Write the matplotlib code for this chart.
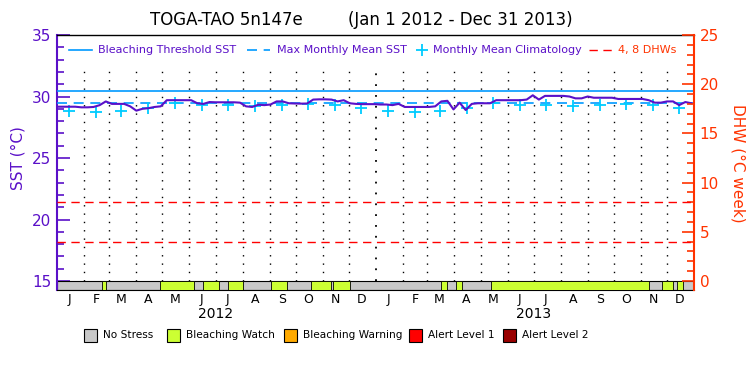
import pandas as pd
import matplotlib
matplotlib.use("Agg")
import matplotlib.pyplot as plt
import matplotlib.dates as mdates
from matplotlib.lines import Line2D
from matplotlib.patches import Rectangle
from matplotlib.ticker import MultipleLocator, FuncFormatter

# weekly SST (deg C) starting 2012-01-01
sst_start = "2012-01-01"
sst_weekly = [29.17, 29.17, 29.17, 29.17, 29.12, 29.12, 29.15, 29.3,
              29.6, 29.4, 29.4, 29.4, 29.2, 28.85, 29.0, 29.05,
              29.15, 29.2, 29.7, 29.7, 29.7, 29.7, 29.7, 29.45,
              29.4, 29.55, 29.53, 29.53, 29.53, 29.53, 29.5, 29.2,
              29.15, 29.33, 29.3, 29.35, 29.6, 29.6, 29.45, 29.43,
              29.42, 29.43, 29.75, 29.77, 29.77, 29.75, 29.6, 29.7,
              29.45, 29.4, 29.38, 29.38, 29.38, 29.35, 29.35, 29.3,
              29.4, 29.15, 29.15, 29.15, 29.15, 29.15, 29.2, 29.6,
              29.65, 28.95, 29.5, 28.9, 29.4, 29.45, 29.45, 29.45,
              29.7, 29.7, 29.7, 29.7, 29.7, 29.75, 30.1, 29.75,
              30.05, 30.05, 30.05, 30.05, 30.0, 29.85, 29.85, 30.0,
              29.9, 29.9, 29.9, 29.9, 29.8, 29.8, 29.8, 29.8,
              29.8, 29.7, 29.5, 29.5, 29.6, 29.6, 29.3, 29.55,
              29.45]

# monthly mean climatology Jan..Dec
clim_months = [28.85, 28.7, 28.85, 29.1, 29.45, 29.35,
               29.27, 29.2, 29.33, 29.37, 29.33, 29.1]
mmm = 29.46
threshold = 30.46
dhw_levels = [4, 8]

# bleaching watch periods (rest is no stress)
watch_starts = ["2012-02-22", "2012-04-28", "2012-06-17", "2012-07-15",
                "2012-09-03", "2012-10-18", "2012-11-13", "2013-03-17",
                "2013-04-03", "2013-05-13", "2013-11-25", "2013-12-12"]
watch_ends = ["2012-02-26", "2012-06-06", "2012-07-05", "2012-08-01",
              "2012-09-21", "2012-11-11", "2012-12-02", "2013-03-24",
              "2013-04-10", "2013-11-10", "2013-12-08", "2013-12-19"]

month_letters = ["J", "F", "M", "A", "M", "J", "J", "A", "S", "O", "N", "D"]
years = [2012, 2013]
stress_labels = ["No Stress", "Bleaching Watch", "Bleaching Warning",
                 "Alert Level 1", "Alert Level 2"]
stress_colors = ["#c8c8c8", "#ccff33", "#ffaa00", "#ff0000", "#990000"]

purple = "#5a10c8"
orange = "#ff3300"
thr_c = "#0099ff"
clim_c = "#00ccff"

fig = plt.figure(figsize=(7.5, 3.75), dpi=100)
ax = fig.add_axes([57/750, 85/375, 637/750, 255/375])
ax2 = ax.twinx()

x0 = pd.Timestamp("2012-01-01")
x1 = pd.Timestamp("2014-01-01")
ax.set_xlim(x0, x1)
ax.set_ylim(14.27, 35)
ax2.set_ylim(-0.915, 25)

# stress bar along the bottom
bar_lo, bar_h = 14.27, 15 - 14.27
ax.add_patch(Rectangle((mdates.date2num(x0), bar_lo),
                       mdates.date2num(x1) - mdates.date2num(x0), bar_h,
                       facecolor=stress_colors[0], edgecolor="black", lw=0.8, zorder=2))
for s, e in zip(watch_starts, watch_ends):
    a = mdates.date2num(pd.Timestamp(s))
    b = mdates.date2num(pd.Timestamp(e))
    ax.add_patch(Rectangle((a, bar_lo), b - a, bar_h, facecolor=stress_colors[1],
                           edgecolor="black", lw=0.6, zorder=3))

# month boundaries
month_starts = pd.date_range("2012-02-01", "2013-12-01", freq="MS")
for d in month_starts:
    lw = 1.3 if d.month == 1 else 1.0
    ax.vlines(d, 15, 32.55, colors="black", linestyles=(0, (1, 5)), lw=lw, zorder=1)

ax.axhline(threshold, color=thr_c, lw=1.2, zorder=4)
ax.axhline(mmm, color=thr_c, lw=1.2, ls=(0, (6, 4)), zorder=4)

mid_months = pd.date_range("2012-01-01", "2013-12-01", freq="MS") + pd.Timedelta(days=14)
ax.plot(mid_months, clim_months * 2, ls="none", marker="+", ms=9, mew=1.3,
        color=clim_c, zorder=5)

sst_dates = pd.date_range(sst_start, periods=len(sst_weekly), freq="7D")
ax.plot(sst_dates, sst_weekly, color=purple, lw=1.5, zorder=6)

for lev in dhw_levels:
    ax2.axhline(lev, color="#ff0000", lw=1.0, ls=(0, (6, 4)))

# axes styling
ax.yaxis.set_minor_locator(MultipleLocator(1))
ax.set_yticks([15, 20, 25, 30, 35])
ax.tick_params(axis="y", which="major", direction="in", length=9, width=1.2,
               color=purple, labelcolor=purple, labelsize=11, pad=4)
ax.tick_params(axis="y", which="minor", direction="in", length=5, width=1.2, color=purple)
ax2.yaxis.set_minor_locator(MultipleLocator(1))
ax2.set_yticks([0, 5, 10, 15, 20, 25])
ax2.tick_params(axis="y", which="major", direction="in", length=9, width=1.2,
                color=orange, labelcolor=orange, labelsize=11, pad=4)
ax2.tick_params(axis="y", which="minor", direction="in", length=5, width=1.2, color=orange)

ax.xaxis.set_major_locator(mdates.MonthLocator(bymonthday=15))
ax.xaxis.set_major_formatter(FuncFormatter(
    lambda v, pos: month_letters[mdates.num2date(v).month - 1]))
ax.xaxis.set_minor_locator(mdates.MonthLocator())
ax.tick_params(axis="x", which="both", length=0, labelsize=9, pad=2)

ax.spines["left"].set_color(purple)
ax.spines["left"].set_linewidth(1.5)
ax2.spines["left"].set_visible(False)
ax2.spines["right"].set_color(orange)
ax2.spines["right"].set_linewidth(1.5)
ax.spines["right"].set_visible(False)
ax.spines["top"].set_linewidth(1.0)
ax2.spines["top"].set_visible(False)
ax2.spines["bottom"].set_visible(False)

for yr in years:
    ax.text(pd.Timestamp(f"{yr}-07-01"), -0.095, str(yr), transform=ax.get_xaxis_transform(),
            ha="center", va="center", fontsize=10)

# titles / axis labels
fig.text(150/750, 1 - 20/375, "TOGA-TAO 5n147e", fontsize=12, va="center")
fig.text(348/750, 1 - 20/375, "(Jan 1 2012 - Dec 31 2013)", fontsize=12, va="center")
fig.text(18/750, 1 - 158/375, "SST (°C)", rotation=90, ha="center", va="center",
         fontsize=11, color=purple)
fig.text(738/750, 1 - 163/375, "DHW (°C week)", rotation=-90, ha="center", va="center",
         fontsize=11, color=orange)

# top legend
ly = 1 - 50/375
fig.add_artist(Line2D([69/750, 92/750], [ly, ly], color=thr_c, lw=1.2))
fig.text(98/750, ly, "Bleaching Threshold SST", fontsize=8, color=purple, va="center")
fig.add_artist(Line2D([247/750, 270/750], [ly, ly], color=thr_c, lw=1.2, ls=(0, (6, 4))))
fig.text(277/750, ly, "Max Monthly Mean SST", fontsize=8, color=purple, va="center")
fig.add_artist(Line2D([422/750], [ly], color=clim_c, marker="+", ms=9, mew=1.3, ls="none"))
fig.text(433/750, ly, "Monthly Mean Climatology", fontsize=8, color=purple, va="center")
fig.add_artist(Line2D([589/750, 613/750], [ly, ly], color="#ff0000", lw=1.0, ls=(0, (6, 4))))
fig.text(618/750, ly, "4, 8 DHWs", fontsize=8, color=orange, va="center")

# bottom legend
box_x = [84, 167, 284, 409, 503]
by = 1 - 335/375
for bx, lab, col in zip(box_x, stress_labels, stress_colors):
    fig.add_artist(Rectangle((bx/750, by - 6.5/375), 13/750, 13/375, facecolor=col,
                             edgecolor="black", lw=0.8, transform=fig.transFigure))
    fig.text((bx + 19)/750, by, lab, fontsize=7.6, va="center")

fig.savefig("out.png", dpi=100)
